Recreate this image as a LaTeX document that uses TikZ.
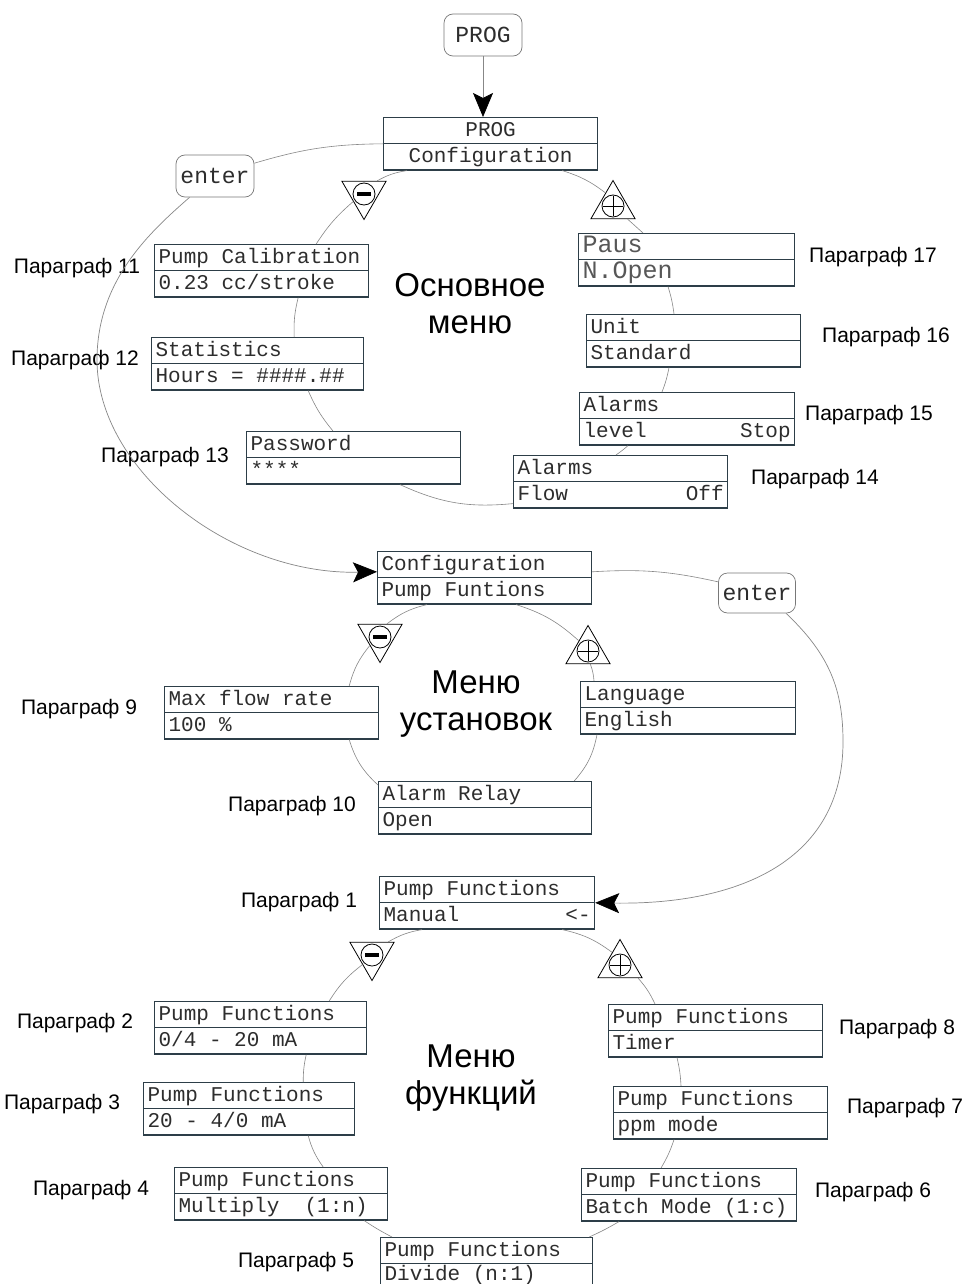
\documentclass[tikz,border=0pt]{standalone}
\usepackage{fontspec}
\setmainfont{Liberation Sans}
\newfontfamily\lcdfamily[WordSpace={1,0,0}]{Liberation Mono}
\usetikzlibrary{arrows.meta,shapes.geometric,shapes.multipart}
\definecolor{boxc}{RGB}{45,62,72}
\definecolor{txtc}{RGB}{45,45,45}
\definecolor{wire}{RGB}{135,135,135}
\definecolor{keyc}{RGB}{120,120,120}
\newcommand\rs{\spaceskip=0pt\xspaceskip=0pt\rule[-7pt]{0pt}{25pt}}
\newcommand\rsb{\spaceskip=0pt\xspaceskip=0pt\rule[-5pt]{0pt}{21pt}}
\newcommand\lcdf{\lcdfamily\fontsize{21}{25}\selectfont}
\newcommand\pausf{\lcdfamily\fontsize{25}{25}\selectfont}
\newcommand\keyf{\lcdfamily\fontsize{23}{25}\selectfont}
\newcommand\lblf{\fontsize{21}{24}\selectfont}
\newcommand\ttlf{\fontsize{33}{37}\selectfont}
\newcommand\minusbtn[2]{%
  \node[tri, shape border rotate=180] (#1) at (#2) {};
  \draw[btn] (#1.center) circle[radius=11];
  \fill (#1.center) ++(-7,-2.4) rectangle ++(14,4.8);}
\newcommand\plusbtn[2]{%
  \node[tri] (#1) at (#2) {};
  \draw[btn] (#1.center) circle[radius=11];
  \draw[btn] (#1.center) ++(-10,0) -- ++(20,0) (#1.center) ++(0,-10) -- ++(0,20);}
\begin{document}
\begin{tikzpicture}[x=1pt,y=-1pt,
  lcdbox/.style={rectangle split, rectangle split parts=2, draw=boxc, line width=1.2pt,
    fill=white, font=\lcdf, text=txtc, inner xsep=4pt, inner ysep=0pt, anchor=north west,
    text width=#1, align=left, rectangle split part align=left},
  lcdbox/.default=206,
  keybox/.style={draw=keyc, line width=0.7pt, rounded corners=9pt, font=\keyf, text=txtc,
    minimum width=78pt, minimum height=42pt, inner sep=0pt},
  lbl/.style={font=\lblf, text=black, inner sep=0pt},
  ttl/.style={font=\ttlf, align=center, inner sep=0pt},
  ring/.style={draw=wire, line width=0.6pt},
  arr/.style={draw=wire, line width=0.7pt, -{Stealth[length=24pt,width=20pt,inset=5pt,color=black]}},
  tri/.style={regular polygon, regular polygon sides=3, draw=black, line width=0.8pt,
    minimum size=51pt, inner sep=0pt, fill=white},
  btn/.style={draw=black, line width=0.8pt}]
\fill[white] (0,0) rectangle (965,1284);
\useasboundingbox (0,0) rectangle (965,1284);

% ---------- main menu ----------
\node[keybox] (prog0) at (483,35) {PROG};
\node[lcdbox, align=center, rectangle split part align=center] (cfg1) at (383,117)
  {\rs PROG\nodepart{two}\rs Configuration};
\node[keybox] (enter1) at (215,176) {enter};
\minusbtn{m1}{364,194}
\plusbtn{p1}{613,206}
\node[lcdbox] (pc) at (154,244) {\rs Pump Calibration\nodepart{two}\rs 0.23 cc/stroke};
\node[lcdbox=204] (stat) at (151,337) {\rs Statistics\nodepart{two}\rs Hours = \#\#\#\#.\#\#};
\node[lcdbox] (pw) at (246,431) {\rs Password\nodepart{two}\rs ****};
\node[lcdbox=208, font=\pausf, text=txtc!80] (paus) at (578,233) {\rs Paus\nodepart{two}\rs N.Open};
\node[lcdbox] (unit) at (586,314) {\rs Unit\nodepart{two}\rs Standard};
\node[lcdbox=207] (alvl) at (579,392) {\rs Alarms\nodepart{two}\rs level\hfill Stop};
\node[lcdbox] (aflow) at (513,455) {\rs Alarms\nodepart{two}\rs Flow\hfill Off};
\node[ttl] (t1) at (470,304) {Основное\\меню};

\node[lbl] (l11) at (77,268) {Параграф 11};
\node[lbl] (l12) at (75,360) {Параграф 12};
\node[lbl] (l13) at (165,457) {Параграф 13};
\node[lbl] (l17) at (873,257) {Параграф 17};
\node[lbl] (l16) at (886,337) {Параграф 16};
\node[lbl] (l15) at (869,415) {Параграф 15};
\node[lbl] (l14) at (815,479) {Параграф 14};

\draw[arr] (prog0.south) -- (prog0.south |- cfg1.north);
\draw[ring] (cfg1.west) to[bend right=8] (enter1.18);
\draw[ring] ([xshift=24pt]cfg1.south west) to[bend right=10] (m1.45);
\draw[ring] (m1.215) to[bend right=8] ([xshift=-53pt]pc.north east);
\draw[ring] ([xshift=-71pt]pc.south east) to[bend right=8] ([xshift=-70pt]stat.north east);
\draw[ring] ([xshift=-56pt]stat.south east) to[bend right=8] ([xshift=87pt]pw.north west);
\draw[ring] ([xshift=154pt]pw.south west) to[bend right=15] ([yshift=5pt]aflow.south west);
\draw[ring] ([xshift=103pt]aflow.north west) to[bend right=3] ([xshift=49pt]alvl.south west);
\draw[ring] ([xshift=83pt]alvl.north west) to[bend right=5] ([xshift=83pt]unit.south west);
\draw[ring] ([xshift=88pt]unit.north west) to[bend right=5] ([xshift=90pt]paus.south west);
\draw[ring] ([xshift=65pt]paus.north west) to (p1.-42);
\draw[ring] (p1.120) to[bend right=10] ([xshift=-36pt]cfg1.south east);

% ---------- settings menu ----------
\node[lcdbox] (cfg2) at (377,551) {\rs Configuration\nodepart{two}\rs Pump Funtions};
\node[keybox, minimum width=77pt, minimum height=40pt] (enter2) at (757,593) {enter};
\minusbtn{m2}{380,637}
\plusbtn{p2}{588,651}
\node[lcdbox] (mfr) at (164,686) {\rs Max flow rate\nodepart{two}\rs 100 \%};
\node[lcdbox=207] (lang) at (580,681) {\rs Language\nodepart{two}\rs English};
\node[lcdbox=205] (arelay) at (378,781) {\rs Alarm Relay\nodepart{two}\rs Open};
\node[ttl] (t2) at (476,704) {Меню\\установок};
\node[lbl] (l9) at (79,709) {Параграф 9};
\node[lbl] (l10) at (292,806) {Параграф 10};

\draw[arr] (enter1.220) .. controls (150,232) and (97,280) .. (97,360)
  .. controls (97,470) and (230,575) .. ([yshift=6pt]cfg2.west);
\draw[ring] ([yshift=6pt]cfg2.east) to[bend left=8] (enter2.164);
\draw[ring] ([xshift=50pt]cfg2.south west) to[bend right=12] (m2.62);
\draw[ring] (m2.220) to[bend right=12] ([xshift=-30pt]mfr.north east);
\draw[ring] ([xshift=-30pt]mfr.south east) to[bend right=15] ([yshift=-4pt]arelay.north west);
\draw[ring] ([xshift=-18pt]arelay.north east) to[bend right=15] ([xshift=17pt]lang.south west);
\draw[ring] ([xshift=14pt]lang.north west) to[bend right=8] (p2.-80);
\draw[ring] (p2.132) to[bend right=12] ([xshift=-76pt]cfg2.south east);

% ---------- functions menu ----------
\node[lcdbox=207] (pf1) at (379,876) {\rs Pump Functions\nodepart{two}\rs Manual\hfill<-};
\minusbtn{m3}{372,955}
\plusbtn{p3}{620,965}
\node[lcdbox=204] (pf2) at (154,1001) {\rs Pump Functions\nodepart{two}\rs 0/4 - 20 mA};
\node[lcdbox=203] (pf3) at (143,1082) {\rs Pump Functions\nodepart{two}\rs 20 - 4/0 mA};
\node[lcdbox=205] (pf4) at (174,1167) {\rs Pump Functions\nodepart{two}\rs Multiply~~(1:n)};
\node[lcdbox=204] (pf5) at (380,1237) {\rs Pump Functions\nodepart{two}\rsb Divide (n:1)};
\node[lcdbox=207] (pf6) at (581,1168) {\rs Pump Functions\nodepart{two}\rs Batch Mode (1:c)};
\node[lcdbox] (pf7) at (613,1086) {\rs Pump Functions\nodepart{two}\rs ppm mode};
\node[lcdbox] (pf8) at (608,1004) {\rs Pump Functions\nodepart{two}\rs Timer};
\node[ttl] (t3) at (471,1078) {Меню\\функций};
\node[lbl] (l1) at (299,902) {Параграф 1};
\node[lbl] (l2) at (75,1023) {Параграф 2};
\node[lbl] (l3) at (62,1104) {Параграф 3};
\node[lbl] (l4) at (91,1190) {Параграф 4};
\node[lbl] (l5) at (296,1262) {Параграф 5};
\node[lbl] (l8) at (897,1029) {Параграф 8};
\node[lbl] (l7) at (905,1108) {Параграф 7};
\node[lbl] (l6) at (873,1192) {Параграф 6};

\draw[arr] (enter2.-35) .. controls (830,655) and (843,690) .. (843,742)
  .. controls (843,860) and (740,905) .. (pf1.east);
\draw[ring] ([xshift=43pt]pf1.south west) to[bend right=10] (m3.39);
\draw[ring] (m3.225) to[bend right=10] ([xshift=-38pt]pf2.north east);
\draw[ring] ([xshift=-61pt]pf2.south east) to[bend right=6] ([xshift=-52pt]pf3.north east);
\draw[ring] ([xshift=-47pt]pf3.south east) to[bend right=10] ([xshift=-65pt]pf4.north east);
\draw[ring] ([xshift=-24pt]pf4.south east) to[bend right=3] ([xshift=12pt]pf5.north west);
\draw[ring] ([xshift=-4pt]pf5.north east) to[bend right=3] ([xshift=38pt]pf6.south west);
\draw[ring] ([xshift=80pt]pf6.north west) to[bend right=6] ([xshift=61pt]pf7.south west);
\draw[ring] ([xshift=68pt]pf7.north west) to[bend right=5] ([xshift=69pt]pf8.south west);
\draw[ring] ([xshift=47pt]pf8.north west) to[bend right=8] (p3.-36);
\draw[ring] (p3.122) to[bend right=12] ([xshift=-33pt]pf1.south east);
\end{tikzpicture}
\end{document}
